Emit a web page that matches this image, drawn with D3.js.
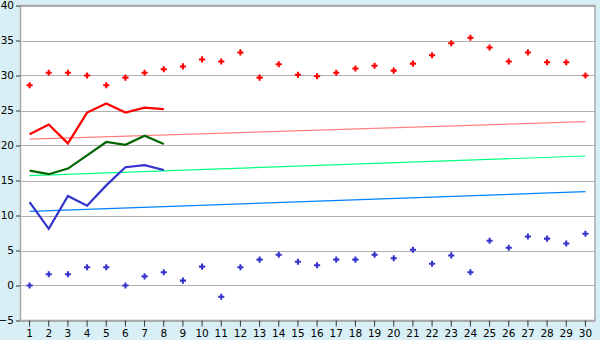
<!DOCTYPE html>
<html>
<head>
<meta charset="utf-8">
<script src="https://cdn.jsdelivr.net/npm/d3@7"></script>
<style>
  body { margin: 0; background: #d9eff6; }
  svg { display: block; }
</style>
</head>
<body>
<svg id="chart" width="600" height="340"></svg>
<script>
// Data
const days = d3.range(1, 31);
const yTicks = [-5, 0, 5, 10, 15, 20, 25, 30, 35, 40];

const redPoints = [28.6, 30.4, 30.4, 30.0, 28.6, 29.7, 30.4, 30.9, 31.3, 32.3,
  32.0, 33.3, 29.7, 31.6, 30.1, 29.9, 30.4, 31.0, 31.4, 30.7,
  31.7, 32.9, 34.6, 35.4, 34.0, 32.0, 33.3, 31.9, 31.9, 30.0];
const bluePoints = [0.0, 1.6, 1.6, 2.6, 2.6, 0.0, 1.3, 1.9, 0.7, 2.7,
  -1.6, 2.6, 3.7, 4.4, 3.4, 2.9, 3.7, 3.7, 4.4, 3.9,
  5.1, 3.1, 4.3, 1.9, 6.4, 5.4, 7.0, 6.7, 6.0, 7.4];

const redLine = [21.6, 23.0, 20.3, 24.7, 26.0, 24.7, 25.4, 25.2];
const greenLine = [16.4, 15.9, 16.7, 18.6, 20.5, 20.1, 21.4, 20.2];
const blueLine = [11.9, 8.1, 12.8, 11.4, 14.3, 16.9, 17.2, 16.5];

// trend lines: [start at day 1, end at day 30]
const redTrend = [20.9, 23.4];
const greenTrend = [15.7, 18.5];
const blueTrend = [10.6, 13.4];

const svg = d3.select('#chart');
const plotL = 20, plotR = 595, plotT = 5.5, plotB = 320.5;

const x = d3.scaleBand().domain(days).range([plotL, plotR]);
const cx = d => x(d) + x.bandwidth() / 2;
const y = d3.scaleLinear().domain([-5, 40]).range([plotB, plotT]);

// plot background
svg.append('rect')
  .attr('x', plotL).attr('y', plotT)
  .attr('width', plotR - plotL).attr('height', plotB - plotT)
  .attr('fill', '#fff');

// grid
svg.append('g')
  .selectAll('line')
  .data(yTicks)
  .join('line')
  .attr('x1', plotL).attr('x2', plotR)
  .attr('y1', d => Math.round(y(d)) + 0.5)
  .attr('y2', d => Math.round(y(d)) + 0.5)
  .attr('stroke', '#b0b0b0')
  .attr('stroke-width', 1);

// border
svg.append('rect')
  .attr('x', plotL + 0.5).attr('y', plotT)
  .attr('width', plotR - plotL - 0.5).attr('height', plotB - plotT)
  .attr('fill', 'none')
  .attr('stroke', '#a8a8a8')
  .attr('stroke-width', 1.5);

// axes
const yAxis = svg.append('g')
  .attr('transform', `translate(${plotL},0)`)
  .call(d3.axisLeft(y).tickValues(yTicks).tickSize(4).tickPadding(2));
yAxis.select('.domain').remove();

const xAxis = svg.append('g')
  .attr('transform', `translate(0,${plotB})`)
  .call(d3.axisBottom(x).tickSize(6).tickPadding(3));
xAxis.select('.domain').remove();

svg.selectAll('.tick text')
  .attr('font-family', 'DejaVu Sans, Verdana, sans-serif')
  .attr('font-size', 10.5)
  .attr('fill', '#000');
svg.selectAll('.tick line').attr('stroke', '#333');

// trend lines
function trend(vals, color) {
  svg.append('line')
    .attr('x1', cx(1)).attr('x2', cx(30))
    .attr('y1', y(vals[0])).attr('y2', y(vals[1]))
    .attr('stroke', color)
    .attr('stroke-width', 1.2);
}
trend(redTrend, '#ff8080');
trend(greenTrend, '#00ff80');
trend(blueTrend, '#0080ff');

// data lines
const line = d3.line().x((d, i) => cx(days[i])).y(d => y(d));
function series(vals, color) {
  svg.append('path')
    .attr('d', line(vals))
    .attr('fill', 'none')
    .attr('stroke', color)
    .attr('stroke-width', 2.2);
}
series(redLine, '#ff0000');
series(greenLine, '#006600');
series(blueLine, '#3333cc');

// point markers
const cross = d3.symbol().type(d3.symbolCross).size(21);
function points(vals, color) {
  svg.append('g')
    .selectAll('path')
    .data(vals)
    .join('path')
    .attr('d', cross)
    .attr('transform', (d, i) => `translate(${cx(days[i])},${y(d)})`)
    .attr('fill', color);
}
points(redPoints, '#ff0000');
points(bluePoints, '#3333cc');
</script>
</body>
</html>
